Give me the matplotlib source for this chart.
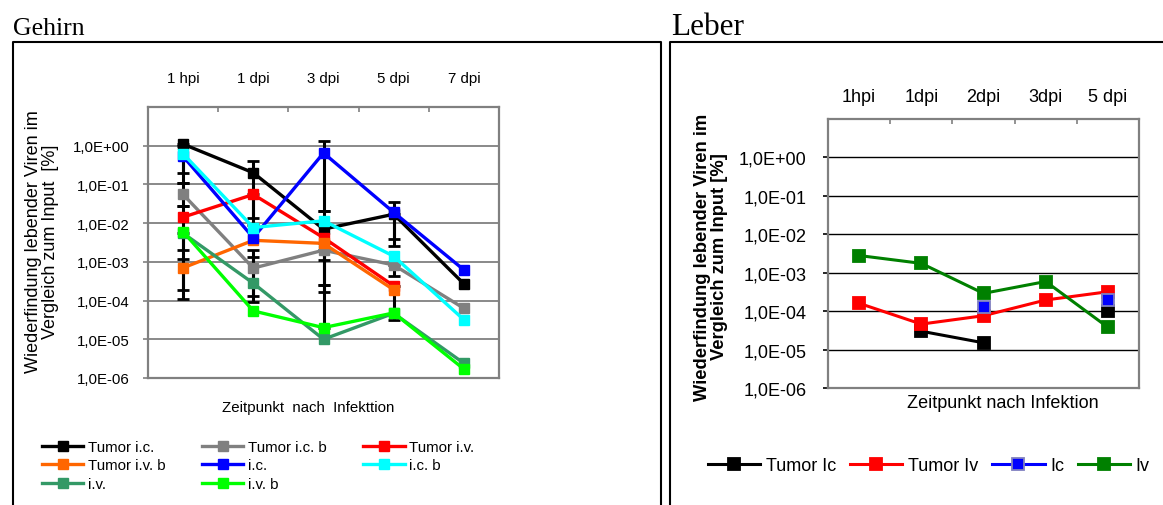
import numpy as np
import matplotlib
matplotlib.use("Agg")
import matplotlib.pyplot as plt
from matplotlib.lines import Line2D

nan = np.nan

# ── Gehirn data ──────────────────────────────────────────────────────────────
time_g = ["1 hpi", "1 dpi", "3 dpi", "5 dpi", "7 dpi"]
names_g = ["Tumor i.c.", "Tumor i.c. b", "Tumor i.v.", "Tumor i.v. b",
           "i.c.", "i.c. b", "i.v.", "i.v. b"]
colors_g = ["#000000", "#808080", "#FF0000", "#FF6600",
            "#0000FF", "#00FFFF", "#339966", "#00FF00"]

tumor_ic   = [1.1,    0.2,    7.0e-3, 1.7e-2, 2.7e-4]
tumor_ic_b = [5.5e-2, 6.9e-4, 2.0e-3, 8.3e-4, 6.3e-5]
tumor_iv   = [1.43e-2, 5.5e-2, 4.2e-3, 2.4e-4, nan]
tumor_iv_b = [7.0e-4, 3.6e-3, 3.0e-3, 1.9e-4, nan]
ic         = [0.53,   4.2e-3, 0.65,   1.9e-2, 6.2e-4]
ic_b       = [0.62,   7.7e-3, 1.15e-2, 1.4e-3, 3.2e-5]
iv         = [5.5e-3, 2.8e-4, 1.0e-5, 4.7e-5, 2.4e-6]
iv_b       = [6.0e-3, 5.4e-5, 2.0e-5, 4.8e-5, 1.7e-6]

# error bar ends (lower / upper), nan = no bar
tumor_ic_lo   = [0.2,    1.35e-2, 1.1e-3, 2.5e-3, nan]
tumor_ic_hi   = [nan,    0.4,     2.0e-2, nan,    nan]
tumor_ic_b_lo = [2.7e-2, 1.3e-4,  1.7e-4, 4.2e-4, nan]
tumor_ic_b_hi = [0.11,   2.0e-3,  nan,    nan,    nan]
tumor_iv_lo   = [2.0e-3, 9.0e-3,  nan,    3.2e-5, nan]
tumor_iv_hi   = [2.7e-2, nan,     nan,    nan,    nan]
tumor_iv_b_lo = [1.9e-4, nan,     2.5e-4, nan,    nan]
tumor_iv_b_hi = [1.2e-3, nan,     nan,    nan,    nan]
ic_lo         = [0.11,   nan,     2.0e-2, 4.0e-3, nan]
ic_hi         = [1.0,    nan,     1.32,   3.5e-2, nan]
ic_b_lo       = [nan,    nan,     nan,    nan,    nan]
ic_b_hi       = [nan,    nan,     nan,    nan,    nan]
iv_lo         = [1.1e-4, 9.3e-5,  nan,    nan,    nan]
iv_hi         = [nan,    1.35e-3, nan,    nan,    nan]
iv_b_lo       = [nan,    nan,     nan,    nan,    nan]
iv_b_hi       = [nan,    nan,     2.5e-4, nan,    nan]

values_g = [tumor_ic, tumor_ic_b, tumor_iv, tumor_iv_b, ic, ic_b, iv, iv_b]
lo_g = [tumor_ic_lo, tumor_ic_b_lo, tumor_iv_lo, tumor_iv_b_lo, ic_lo, ic_b_lo, iv_lo, iv_b_lo]
hi_g = [tumor_ic_hi, tumor_ic_b_hi, tumor_iv_hi, tumor_iv_b_hi, ic_hi, ic_b_hi, iv_hi, iv_b_hi]

# ── Leber data ───────────────────────────────────────────────────────────────
time_l = ["1hpi", "1dpi", "2dpi", "3dpi", "5 dpi"]
names_l = ["Tumor Ic", "Tumor Iv", "Ic", "Iv"]
colors_l = ["#000000", "#FF0000", "#0000FF", "#008000"]
tumor_ic_l = [nan,    3.0e-5, 1.5e-5, nan,     1.0e-4]
tumor_iv_l = [1.6e-4, 4.6e-5, 7.6e-5, 1.95e-4, 3.2e-4]
ic_l       = [nan,    nan,    1.3e-4, nan,     2.0e-4]
iv_l       = [2.8e-3, 1.75e-3, 2.9e-4, 5.9e-4, 3.8e-5]
values_l = [tumor_ic_l, tumor_iv_l, ic_l, iv_l]

YTICKS = [1e-6, 1e-5, 1e-4, 1e-3, 1e-2, 1e-1, 1e0]
GRAY = "#808080"
SANS = "Liberation Sans"
SERIF = "Liberation Serif"

W, H = 1163, 506
fig = plt.figure(figsize=(W / 100, H / 100), dpi=100, facecolor="white")


def fx(px):
    return px / W


def fy(py):
    return 1 - py / H


def style_axes(ax, labels, fs, tick_pad, xpad, tickcol, gridcol, gridlw):
    ax.set_yscale("log")
    ax.set_ylim(1e-6, 10)
    ax.set_yticks(YTICKS)
    ax.set_yticklabels(["1,0E" + ("+00" if t == 1 else "-%02d" % round(-np.log10(t)))
                        for t in YTICKS], fontsize=fs, family=SANS)
    ax.yaxis.set_minor_locator(matplotlib.ticker.NullLocator())
    ax.tick_params(axis="y", direction="out", length=3.5, width=1.2,
                   color=tickcol, pad=tick_pad)
    ax.set_xlim(-0.5, len(labels) - 0.5)
    ax.xaxis.tick_top()
    ax.set_xticks(range(len(labels)))
    ax.set_xticklabels(labels, fontsize=fs, family=SANS)
    ax.tick_params(axis="x", which="major", length=0, pad=xpad)
    ax.set_xticks(np.arange(0.5, len(labels) - 0.5, 1), minor=True)
    ax.tick_params(axis="x", which="minor", direction="in", length=3.5,
                   width=1.2, color=GRAY, top=True, bottom=False)
    ax.yaxis.grid(True, which="major", color=gridcol, linewidth=gridlw)
    ax.set_axisbelow(True)
    for sp in ax.spines.values():
        sp.set_color(GRAY)
        sp.set_linewidth(1.6)


# ── Gehirn panel ─────────────────────────────────────────────────────────────
ax1 = fig.add_axes([fx(148), fy(379), fx(499) - fx(148), fy(108) - fy(379)])
style_axes(ax1, time_g, 10.8, 10, 15.5, GRAY, GRAY, 1.3)
x = np.arange(len(time_g))
handles = []
for vals, lo, hi, col, name in zip(values_g, lo_g, hi_g, colors_g, names_g):
    v = np.array(vals)
    lo = np.array(lo)
    hi = np.array(hi)
    m = ~(np.isnan(lo) & np.isnan(hi)) & ~np.isnan(v)
    if m.any():
        down = np.where(np.isnan(lo), 0, v - lo)[m]
        up = np.where(np.isnan(hi), 0, hi - v)[m]
        ax1.errorbar(x[m], v[m], yerr=[down, up], fmt="none", ecolor="black",
                     elinewidth=2.2, capsize=4, capthick=2, zorder=2)
for vals, col, name in zip(values_g, colors_g, names_g):
    h, = ax1.plot(x, vals, color=col, lw=2.4, marker="s", markersize=7.5,
                  markeredgecolor=col, label=name, zorder=3)
    handles.append(h)

# legend is filled column by column, so reorder to read row-wise
order = [0, 3, 6, 1, 4, 7, 2, 5]
fig.legend([handles[i] for i in order], [names_g[i] for i in order],
           ncol=3, loc="upper left", bbox_to_anchor=(fx(42), fy(441)),
           frameon=False, borderpad=0, borderaxespad=0,
           prop={"family": SANS, "size": 10.8}, handlelength=2.75,
           handletextpad=0.3, columnspacing=2.45, labelspacing=0.3)

fig.text(fx(308), fy(408), "Zeitpunkt  nach  Infekttion", ha="center",
         va="center", fontsize=10.8, family=SANS)
fig.text(fx(42), fy(242), "Wiederfindung lebender Viren im\nVergleich zum Input  [%]",
         rotation=90, ha="center", va="center", multialignment="center",
         fontsize=13, family=SANS, linespacing=1.0)

# ── Leber panel ──────────────────────────────────────────────────────────────
ax2 = fig.add_axes([fx(828), fy(389), fx(1139) - fx(828), fy(120) - fy(389)])
style_axes(ax2, time_l, 13, 12, 10, "black", "black", 1.0)
xl = np.arange(len(time_l))
hl = []
for vals, col, name in zip(values_l, colors_l, names_l):
    edge = "#8080C0" if name == "Ic" else col
    h, = ax2.plot(xl, vals, color=col, lw=2.2, marker="s", markersize=8,
                  markeredgecolor=edge, markeredgewidth=1.3, label=name, zorder=3)
    hl.append(h)
fig.legend(hl, names_l, ncol=4, loc="upper left",
           bbox_to_anchor=(fx(708), fy(458)), frameon=False, borderpad=0,
           borderaxespad=0, prop={"family": SANS, "size": 13},
           handlelength=2.9, handletextpad=0.3, columnspacing=0.78)

fig.text(fx(1003), fy(404), "Zeitpunkt nach Infektion", ha="center",
         va="center", fontsize=13, family=SANS)
fig.text(fx(711), fy(257), "Wiederfindung lebender Viren im\nVergleich zum Input [%]",
         rotation=90, ha="center", va="center", multialignment="center",
         fontsize=13.2, fontweight="bold", family=SANS, linespacing=1.05)

# ── panel frames and titles ──────────────────────────────────────────────────
for xs, ys in [([13, 13, 661, 661], [520, 43, 43, 520]),
               ([670, 670, 1170], [520, 43, 43])]:
    fig.add_artist(Line2D([fx(v) for v in xs], [fy(v) for v in ys],
                          color="black", lw=1.5, clip_on=False))
fig.text(fx(13), fy(35), "Gehirn", fontsize=18.5, family=SERIF, va="baseline")
fig.text(fx(671), fy(35), "Leber", fontsize=22.5, family=SERIF, va="baseline")

fig.savefig("out.png", dpi=100, facecolor="white")
